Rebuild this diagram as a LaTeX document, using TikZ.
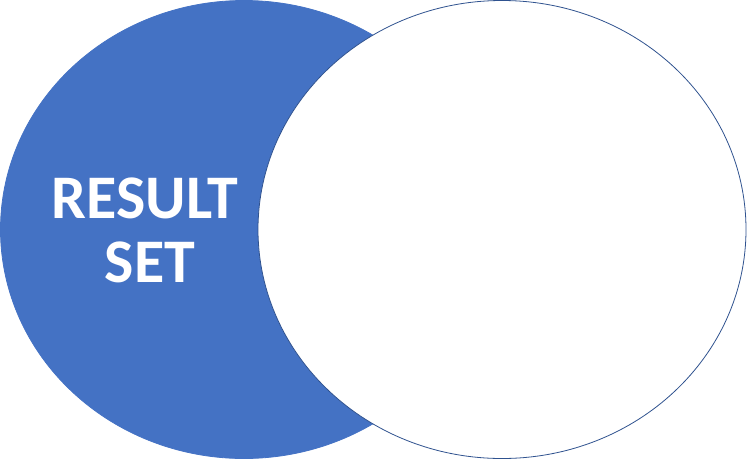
\documentclass[tikz,border=0pt]{standalone}
\usepackage{fontspec}
\setmainfont{Carlito}
\definecolor{officeblue}{HTML}{4472C4}
\definecolor{edgeblue}{HTML}{2F528F}
\begin{document}
\begin{tikzpicture}[x=1pt,y=-1pt,
  setA/.style={fill=officeblue,draw=officeblue,line width=0.8pt},
  setB/.style={fill=white,draw=edgeblue,line width=0.8pt},
  label/.style={text=white,font=\bfseries\fontsize{62}{64}\selectfont,align=center}]
\useasboundingbox (0,0) rectangle (747,459);
\draw[setA] (244,229.5) ellipse [x radius=243.5, y radius=229];
\draw[setB] (502,229.5) ellipse [x radius=244, y radius=229];
\node[label] (rs) at (145,230.5) {RESULT\\\hspace*{10pt}SET};
\end{tikzpicture}
\end{document}
